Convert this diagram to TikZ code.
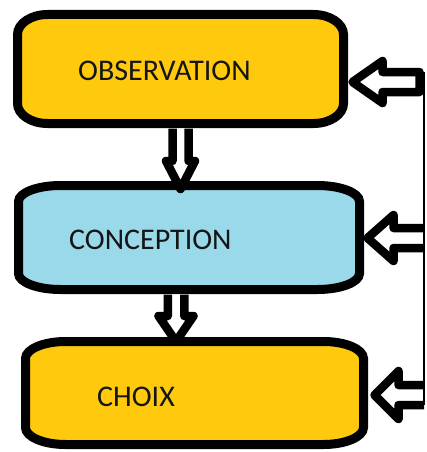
\documentclass[tikz,border=0pt]{standalone}
\usepackage{fontspec}
\setmainfont{Carlito}
\usetikzlibrary{calc}

\definecolor{boxgold}{HTML}{FFC90E}
\definecolor{boxsky}{HTML}{99D9EA}
\definecolor{ink}{HTML}{151515}

\tikzset{
  stagebox/.style={rectangle, draw=none, inner sep=0pt, outer sep=0pt},
  outline/.style={draw=black, line width=9pt},
  stagetext/.style={anchor=base west, inner sep=0pt, text=ink,
    font=\fontsize{30}{32}\selectfont},
  hollow/.style={draw=black, fill=white, line width=8.5pt, line join=round},
  feedback/.style={draw=black, line width=1.5pt},
}

% Soft-cornered stage box drawn around a named node:
% #1 node name, #2 fill colour, #3 corner x-radius, #4 corner y-radius
\newcommand{\softbox}[4]{%
  \draw[outline, fill=#2]
    ($(#1.north west)+(0,#4)$)
      .. controls ($(#1.north west)+(0,0.45*#4)$) and ($(#1.north west)+(0.45*#3,0)$) ..
    ($(#1.north west)+(#3,0)$) --
    ($(#1.north east)+(-#3,0)$)
      .. controls ($(#1.north east)+(-0.45*#3,0)$) and ($(#1.north east)+(0,0.45*#4)$) ..
    ($(#1.north east)+(0,#4)$) --
    ($(#1.south east)+(0,-#4)$)
      .. controls ($(#1.south east)+(0,-0.45*#4)$) and ($(#1.south east)+(-0.45*#3,0)$) ..
    ($(#1.south east)+(-#3,0)$) --
    ($(#1.south west)+(#3,0)$)
      .. controls ($(#1.south west)+(0.45*#3,0)$) and ($(#1.south west)+(0,-0.45*#4)$) ..
    ($(#1.south west)+(0,-#4)$) -- cycle;}

\begin{document}
\begin{tikzpicture}[x=1pt,y=-1pt]
\useasboundingbox (0,0) rectangle (426,452);

% the three stages
\node[stagebox, minimum width=326pt, minimum height=109pt] (obs) at (180.5,69) {};
\node[stagebox, minimum width=341pt, minimum height=104pt] (con) at (189,237.5) {};
\node[stagebox, minimum width=338pt, minimum height=103pt] (cho) at (194.5,393) {};
\softbox{obs}{boxgold}{30}{20}
\softbox{con}{boxsky}{42}{16}
\softbox{cho}{boxgold}{40}{17}

\node[stagetext] (obstext) at (78,80) {OBSERVATION};
\node[stagetext] (context) at (69,249) {CONCEPTION};
\node[stagetext] (chotext) at (97,406) {CHOIX};

% downward hollow arrows between consecutive stages
\coordinate (d1s) at ($(obs.south)+(0,5)$);
\coordinate (d1t) at ($(obs.south |- con.north)+(0,3.5)$);
\draw[hollow] ($(d1s)+(-8,0)$) -- ($(d1t)+(-8,-28)$) -- ($(d1t)+(-14.5,-28)$) -- (d1t)
  -- ($(d1t)+(14.5,-28)$) -- ($(d1t)+(8,-28)$) -- ($(d1s)+(8,0)$);

\coordinate (d2s) at ($(con.south)+(-13,5)$);
\coordinate (d2t) at (d2s |- cho.north);
\draw[hollow] ($(d2s)+(-8.25,0)$) -- ($(d2t)+(-8.25,-25.5)$) -- ($(d2t)+(-17.5,-25.5)$) -- (d2t)
  -- ($(d2t)+(17.5,-25.5)$) -- ($(d2t)+(8.25,-25.5)$) -- ($(d2s)+(8.25,0)$);

% feedback rail on the right, feeding back into every stage
\coordinate (railtop) at (424,72);
\coordinate (railbot) at (424,405);

\coordinate (l1t) at ($(obs.east)+(9,13)$);
\draw[hollow] (l1t) -- ++(30,-21) -- ++(0,11) -- ++(37,0) -- ++(0,20)
  -- ++(-37,0) -- ++(0,11) -- cycle;

\coordinate (l2t) at ($(con.east)+(8,0.5)$);
\draw[hollow] ($(l2t -| railtop)+(0,-10)$) -- ($(l2t)+(26,-10)$) -- ($(l2t)+(26,-23)$) -- (l2t)
  -- ($(l2t)+(26,23)$) -- ($(l2t)+(26,10)$) -- ($(l2t -| railtop)+(0,10)$);

\coordinate (l3t) at ($(cho.east)+(11,2)$);
\draw[hollow] ($(l3t -| railtop)+(0,-10)$) -- ($(l3t)+(24,-10)$) -- ($(l3t)+(24,-24)$) -- (l3t)
  -- ($(l3t)+(24,24)$) -- ($(l3t)+(24,10)$) -- ($(l3t -| railtop)+(0,10)$);

\draw[feedback] (railtop) -- (railbot);
\end{tikzpicture}
\end{document}
